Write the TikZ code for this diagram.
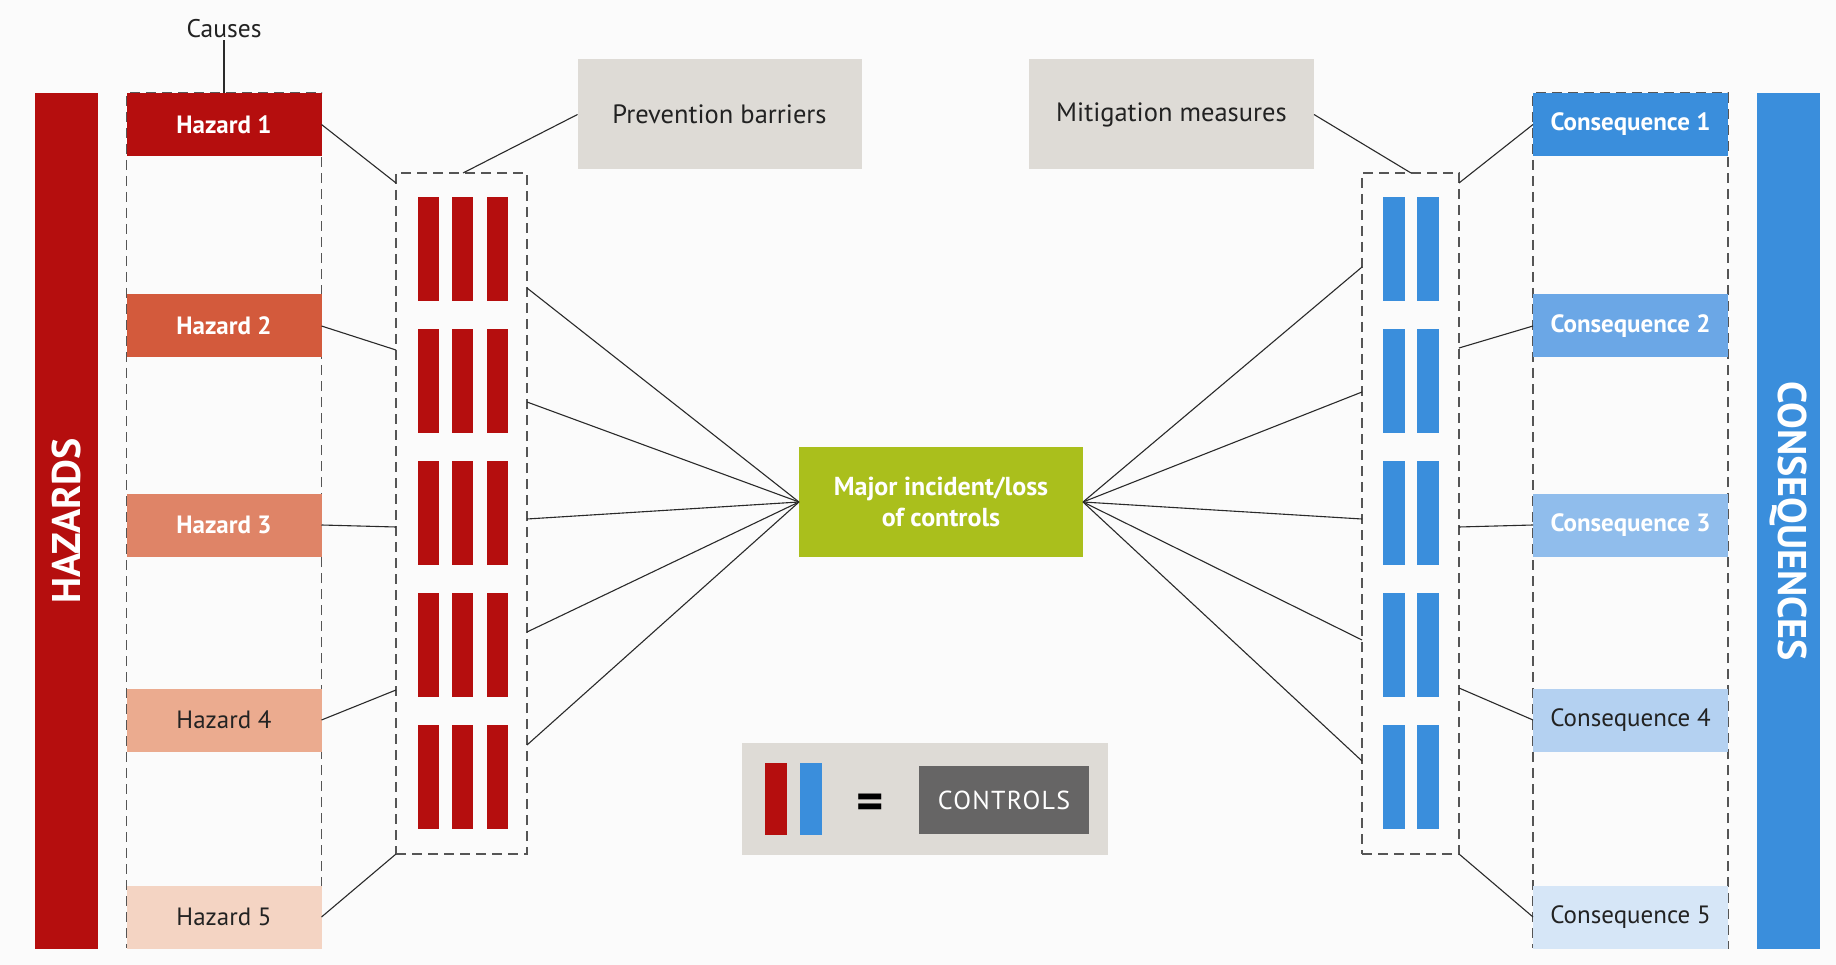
\documentclass[tikz,border=0pt]{standalone}
\usepackage{fontspec}
\setmainfont{PT Sans}
\usetikzlibrary{calc}

\definecolor{bg}{HTML}{FBFBFB}
\definecolor{txt}{HTML}{222222}
\definecolor{hzred}{HTML}{B50E0E}
\definecolor{hz2}{HTML}{D35A3C}
\definecolor{hz3}{HTML}{DF8467}
\definecolor{hz4}{HTML}{EBAB8F}
\definecolor{hz5}{HTML}{F4D4C3}
\definecolor{cqblue}{HTML}{3A8EDC}
\definecolor{cq2}{HTML}{6BA7E6}
\definecolor{cq3}{HTML}{90BDEC}
\definecolor{cq4}{HTML}{B4D1F1}
\definecolor{cq5}{HTML}{D6E6F7}
\definecolor{greybox}{HTML}{DEDBD6}
\definecolor{major}{HTML}{AABF1C}
\definecolor{ctrl}{HTML}{666565}
\definecolor{dashc}{HTML}{555555}
\definecolor{linec}{HTML}{2A2A2A}

\begin{document}
\begin{tikzpicture}[x=1pt,y=-1pt,
  lbl/.style={rectangle, inner sep=0pt, outer sep=0pt, minimum width=195pt,
    minimum height=63pt, text=txt, font=\fontsize{25}{29}\selectfont},
  light/.style={text=white, font=\fontsize{25}{29}\selectfont\bfseries},
  dashbox/.style={rectangle, inner sep=0pt, outer sep=0pt, draw=dashc,
    line width=1.8pt, dash pattern=on 10pt off 6pt},
  link/.style={draw=linec, line width=1.1pt},
  ctlbar/.style={rectangle, inner sep=0pt, outer sep=0pt, minimum width=21pt,
    minimum height=104pt},
  gbox/.style={rectangle, fill=greybox, inner sep=0pt, outer sep=0pt,
    minimum width=284pt, minimum height=110pt, text=txt,
    font=\fontsize{26.5}{30}\selectfont},
  sidebar/.style={rectangle, inner sep=0pt, outer sep=0pt, rotate=#1,
    minimum width=856pt, minimum height=63pt, text=white,
    font=\fontsize{40}{44}\selectfont\bfseries}
]
% canvas
\fill[bg] (0,0) rectangle (1836,965);

% ---------- hazards side ----------
\node[sidebar=90, fill=hzred] (hzbar) at (66.5,521) {HAZARDS};
\node[dashbox, minimum width=195pt, minimum height=855pt] (hcol) at (224,520.5) {};
\node[lbl, fill=hzred, light] (h1) at (224,124.5) {Hazard 1};
\node[lbl, fill=hz2, light] (h2) at (224,326) {Hazard 2};
\node[lbl, fill=hz3, light] (h3) at (224,525) {Hazard 3};
\node[lbl, fill=hz4] (h4) at (224,720) {Hazard 4};
\node[lbl, fill=hz5] (h5) at (224,917) {Hazard 5};

\node[font=\fontsize{25.5}{29}\selectfont, text=txt, inner sep=2pt] (causes) at (224,29) {Causes};
\draw[link] (causes.south) -- (hcol.north);

% prevention barriers
\node[dashbox, minimum width=131pt, minimum height=681pt] (pb) at (461.5,513.5) {};
\foreach \k in {0,...,4}{
  \foreach \bx in {428,462.5,497}{
    \node[ctlbar, fill=hzred] at (\bx,249+132*\k) {};
  }
}
\node[gbox] (pv) at (719.5,114.5) {Prevention barriers};

% ---------- consequences side ----------
\node[sidebar=-90, fill=cqblue] (cqbar) at (1788,521) {CONSEQUENCES};
\node[dashbox, minimum width=195pt, minimum height=855pt] (ccol) at (1630.5,520.5) {};
\node[lbl, fill=cqblue, light] (c1) at (1630.5,124.5) {Consequence 1};
\node[lbl, fill=cq2, light] (c2) at (1630.5,326) {Consequence 2};
\node[lbl, fill=cq3, light] (c3) at (1630.5,525) {Consequence 3};
\node[lbl, fill=cq4] (c4) at (1630.5,720) {Consequence 4};
\node[lbl, fill=cq5] (c5) at (1630.5,917) {Consequence 5};

% mitigation measures
\node[dashbox, minimum width=97pt, minimum height=681pt] (mb) at (1410.5,513.5) {};
\foreach \k in {0,...,4}{
  \foreach \bx in {1394,1428}{
    \node[ctlbar, minimum width=22pt, fill=cqblue] at (\bx,249+132*\k) {};
  }
}
\node[gbox, minimum width=285pt] (mm) at (1171.5,114.5) {Mitigation measures};

% ---------- centre event ----------
\node[rectangle, fill=major, inner sep=0pt, outer sep=0pt, minimum width=284pt,
  minimum height=110pt, text=white, align=center,
  font=\fontsize{26}{31}\selectfont\bfseries] (major) at (941,502)
  {Major incident/loss\\of controls};

% ---------- legend ----------
\node[rectangle, fill=greybox, inner sep=0pt, minimum width=366pt,
  minimum height=112pt] (legend) at (925,799) {};
\node[rectangle, fill=hzred, inner sep=0pt, minimum width=22pt, minimum height=72pt] (lgred) at (776,799) {};
\node[rectangle, fill=cqblue, inner sep=0pt, minimum width=22pt, minimum height=72pt] (lgblue) at (811,799) {};
\node[font=\fontsize{52}{54}\selectfont\bfseries, text=black, inner sep=0pt] (eq) at (870,807) {=};
\node[rectangle, fill=ctrl, inner sep=0pt, minimum width=170pt, minimum height=68pt,
  text=white, font=\fontsize{26}{30}\selectfont\addfontfeatures{LetterSpace=5}] (ctl) at (1004,800) {CONTROLS};

% ---------- attachment points on the barrier groups ----------
\coordinate (bt) at (463,173);
\coordinate (bw1) at (396,183);
\coordinate (bw2) at (396,350);
\coordinate (bw3) at (396,527);
\coordinate (bw4) at (396,690);
\coordinate (bw5) at (396,854);
\coordinate (be1) at (527,288);
\coordinate (be2) at (527,402);
\coordinate (be3) at (527,519);
\coordinate (be4) at (527,632);
\coordinate (be5) at (527,745);

\coordinate (mt) at (1411,173);
\coordinate (me1) at (1459,183);
\coordinate (me2) at (1459,348);
\coordinate (me3) at (1459,527);
\coordinate (me4) at (1459,688);
\coordinate (me5) at (1459,854);
\coordinate (mw1) at (1362,267);
\coordinate (mw2) at (1362,392);
\coordinate (mw3) at (1362,519);
\coordinate (mw4) at (1362,640);
\coordinate (mw5) at (1362,761);

% ---------- connectors ----------
\draw[link] (pv.west) -- (bt);
\draw[link] (mm.east) -- (mt);
\foreach \i in {1,...,5}{
  \draw[link] (h\i.east) -- (bw\i);
  \draw[link] (be\i) -- (major.west);
  \draw[link] (c\i.west) -- (me\i);
  \draw[link] (mw\i) -- (major.east);
}
\end{tikzpicture}
\end{document}
